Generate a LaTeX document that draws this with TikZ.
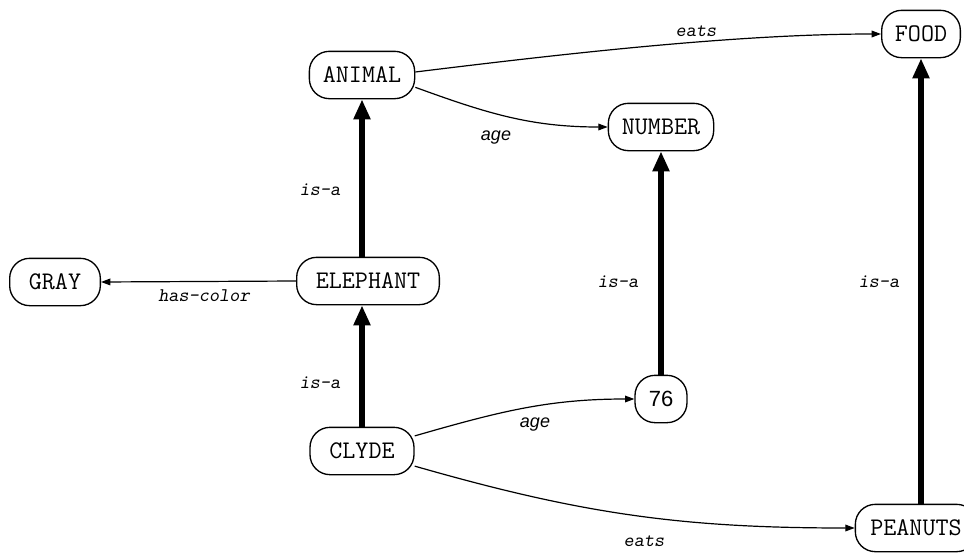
\documentclass[tikz,border=0pt]{standalone}
\usepackage{fontspec}
\newfontfamily\sansf{Liberation Sans}
\usetikzlibrary{arrows.meta}
\tikzset{
  box/.style={draw, line width=1pt, rounded corners=15pt, minimum height=35.5pt,
    inner xsep=8pt, inner ysep=0pt, font=\fontsize{19}{21}\ttfamily\selectfont},
  isa/.style={line width=4.5pt, -{Triangle[length=15pt,width=12pt]}},
  rel/.style={line width=0.9pt, -{Triangle[length=7pt,width=5pt]}},
  lbl/.style={font=\fontsize{14.5}{16}\ttfamily\slshape, inner sep=0pt},
  slbl/.style={font=\fontsize{13.5}{15}\sansf\itshape, inner sep=0pt}
}
\begin{document}
\begin{tikzpicture}[x=0.75pt,y=-0.75pt]
\useasboundingbox (0,0) rectangle (964,553);
\node[box, minimum width=79pt] (animal) at (362,75) {ANIMAL};
\node[box, minimum width=59pt] (food) at (921,34) {FOOD};
\node[box, minimum width=79pt] (number) at (661,127) {NUMBER};
\node[box, minimum width=68pt] (gray) at (55,282) {GRAY};
\node[box, minimum width=107pt] (elephant) at (368,281) {ELEPHANT};
\node[box, font=\fontsize{16.5}{18}\sansf, minimum width=39pt] (n76) at (661,399) {76};
\node[box, minimum width=78pt] (clyde) at (362,451) {CLYDE};
\node[box, minimum width=91pt] (peanuts) at (916,528) {PEANUTS};

\draw[isa] (elephant.north -| animal) -- (animal.south);
\draw[isa] (clyde.north) -- (clyde.north |- elephant.south);
\draw[isa] (n76.north) -- (number.south);
\draw[isa] (peanuts.north -| food) -- (food.south);

\draw[rel] (animal.east) ++(0,-3) to[out=7,in=180,looseness=0.8] (food.west);
\draw[rel] (animal.-13) to[out=-20,in=180] (number.west);
\draw[rel] (elephant.west) -- (gray.east);
\draw[rel] (clyde.16) to[out=16,in=180] (n76.west);
\draw[rel] (clyde.-16) to[out=-16,in=180] (peanuts.west);

\node[lbl] (l1) at (696,31) {eats};
\node[slbl] (l2) at (496,138) {age};
\node[lbl] (l3) at (320,190) {is-a};
\node[lbl] (l4) at (204,296) {has-color};
\node[lbl] (l5) at (618,282) {is-a};
\node[lbl] (l6) at (879,282) {is-a};
\node[lbl] (l7) at (320,383) {is-a};
\node[slbl] (l8) at (535,425) {age};
\node[lbl] (l9) at (644,541) {eats};
\end{tikzpicture}
\end{document}
